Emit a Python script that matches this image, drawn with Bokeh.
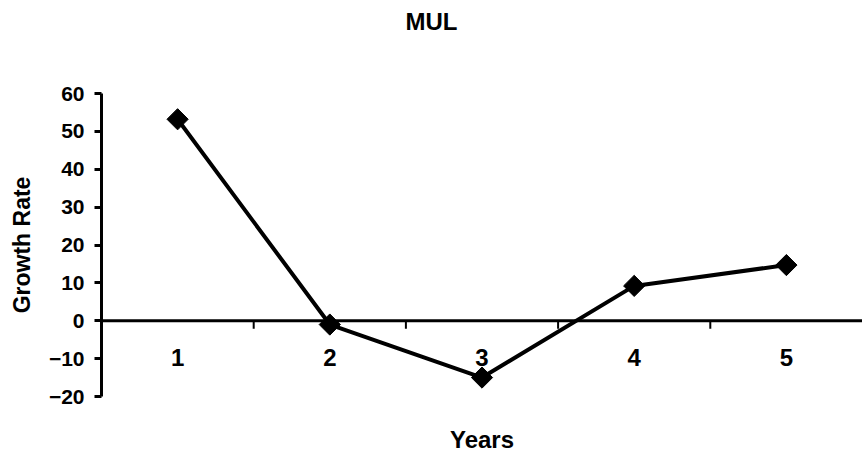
import math
from bokeh.plotting import figure
from bokeh.models import Range1d, FixedTicker, Span, Title
from bokeh.core.properties import value
from bokeh.embed import file_html
from bokeh.resources import INLINE

years = [1, 2, 3, 4, 5]
year_labels = ["1", "2", "3", "4", "5"]
growth = [53.2, -1.0, -15.0, 9.2, 14.7]
y_ticks = [-20, -10, 0, 10, 20, 30, 40, 50, 60]
title_text = "MUL"

FONT = "Liberation Sans"

p = figure(width=862, height=458, output_backend="svg", toolbar_location=None,
           x_range=Range1d(0.5, 5.5), y_range=Range1d(-20, 60),
           min_border_left=101, min_border_right=0, min_border_top=10,
           min_border_bottom=62, background_fill_color="white",
           border_fill_color="white", title=None)
p.outline_line_color = None
p.grid.visible = False

# spacer between title and plot frame, then the title itself
p.add_layout(Title(text=" ", text_font=FONT, text_font_size="20px", standoff=30), "above")
p.add_layout(Title(text=title_text, align="left", offset=304, standoff=10,
                   text_color="black", text_font=FONT, text_font_style="bold",
                   text_font_size="24px"), "above")

# y axis
ya = p.yaxis[0]
ya.ticker = FixedTicker(ticks=y_ticks)
ya.minor_tick_line_color = None
ya.major_tick_in = 0
ya.major_tick_out = 7
ya.major_tick_line_width = 3
ya.axis_line_width = 3
ya.major_label_standoff = 10
ya.major_label_text_color = "black"
ya.major_label_text_font = FONT
ya.major_label_text_font_style = "bold"
ya.major_label_text_font_size = "21px"
ya.axis_label = "Growth Rate"
ya.axis_label_text_color = "black"
ya.axis_label_text_font = FONT
ya.axis_label_text_font_style = "bold"
ya.axis_label_text_font_size = "23px"
ya.axis_label_standoff = 11

# x axis (only for the title "Years")
xa = p.xaxis[0]
xa.ticker = FixedTicker(ticks=[])
xa.axis_line_color = None
xa.major_tick_line_color = None
xa.minor_tick_line_color = None
xa.axis_label = "Years"
xa.axis_label_text_color = "black"
xa.axis_label_text_font = FONT
xa.axis_label_text_font_style = "bold"
xa.axis_label_text_font_size = "24px"
xa.axis_label_standoff = 29

# zero line acting as category axis
p.add_layout(Span(location=0, dimension="width", line_color="black", line_width=3))
boundaries = [y + 0.5 for y in years[:-1]]
p.ray(x=boundaries, y=[0] * len(boundaries), length=8, length_units="screen",
      angle=-math.pi / 2, line_width=2, line_color="black")
p.text(x=years, y=[0] * len(years), text=year_labels, y_offset=37,
       text_align="center", text_baseline="middle", text_font=value(FONT),
       text_font_style="bold", text_font_size="24px", text_color="black")

p.line(years, growth, line_width=4, line_color="black")
p.scatter(years, growth, marker="square", angle=math.pi / 4, size=15,
          fill_color="black", line_color="black")

open("out.html", "w").write(file_html(p, INLINE))
